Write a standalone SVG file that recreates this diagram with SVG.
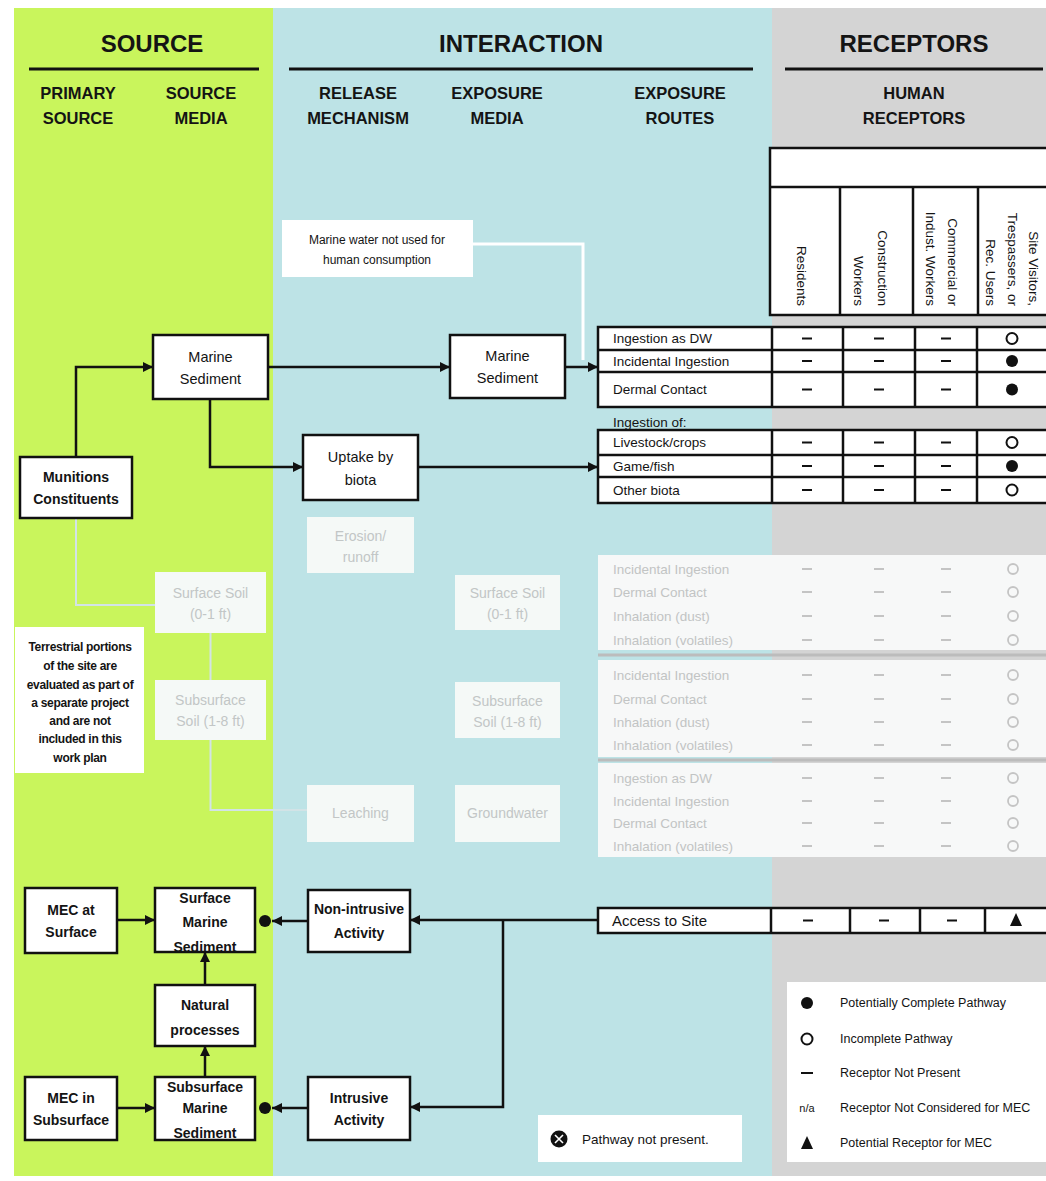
<svg xmlns="http://www.w3.org/2000/svg" width="1046" height="1181" viewBox="0 0 1046 1181">
  <defs>
    <marker id="arr" viewBox="0 0 10 10" refX="10" refY="5" markerWidth="11" markerHeight="10" markerUnits="userSpaceOnUse" orient="auto">
      <path d="M0,0 L10,5 L0,10 z" fill="#111"/>
    </marker>
    <style>
      text { font-family: "Liberation Sans", Arial, sans-serif; fill: #141414; }
      .h1 { font-size: 24px; font-weight: bold; text-anchor: middle; }
      .h2 { font-size: 16.5px; font-weight: bold; text-anchor: middle; }
      .node rect { fill: #ffffff; stroke: #111; stroke-width: 2.5; }
      .node text { font-size: 14.5px; text-anchor: middle; }
      .node.b text { font-size: 14px; font-weight: bold; }
      .note rect { fill: #ffffff; stroke: none; }
      .note text { text-anchor: middle; }
      .fade rect { fill: #f5f9f7; stroke: none; }
      .fade text { font-size: 14px; text-anchor: middle; fill: #c2c6c6; }
      .conn path { fill: none; stroke: #111; stroke-width: 2.5; }
      .conn .ghost { stroke: #d2e3e6; stroke-width: 2; }
      .conn .white { stroke: #ffffff; stroke-width: 3; }
      .tbl rect { fill: #ffffff; stroke: #111; stroke-width: 2.5; }
      .tbl line { stroke: #111; stroke-width: 2.5; }
      .tbl text { font-size: 13.5px; }
      .vt { font-size: 15px; text-anchor: end; }
      .dash { stroke: #111; stroke-width: 2; }
      .fdash { stroke: #c4c4c4; stroke-width: 2; }
      .full { fill: #111; }
      .open { fill: #fff; stroke: #111; stroke-width: 2; }
      .fopen { fill: none; stroke: #c4c4c4; stroke-width: 1.8; }
      .ftxt { font-size: 13.5px; fill: #c2c4c4; }
      .leg text { font-size: 12.5px; }
    </style>
  </defs>

  <!-- background bands -->
  <rect x="0" y="0" width="1046" height="1181" fill="#ffffff"/>
  <rect x="14" y="8" width="259" height="1168" fill="#c9f55c"/>
  <rect x="273" y="8" width="499" height="1168" fill="#bde3e6"/>
  <rect x="772" y="8" width="274" height="1168" fill="#d4d4d4"/>

  <!-- column headings -->
  <g id="headings">
    <text class="h1" x="152" y="52">SOURCE</text>
    <text class="h1" x="521" y="52">INTERACTION</text>
    <text class="h1" x="914" y="52">RECEPTORS</text>
    <line x1="29" y1="69" x2="259" y2="69" stroke="#111" stroke-width="3"/>
    <line x1="289" y1="69" x2="753" y2="69" stroke="#111" stroke-width="3"/>
    <line x1="785" y1="69" x2="1043" y2="69" stroke="#111" stroke-width="3"/>
    <text class="h2" x="78" y="99">PRIMARY</text>
    <text class="h2" x="78" y="124">SOURCE</text>
    <text class="h2" x="201" y="99">SOURCE</text>
    <text class="h2" x="201" y="124">MEDIA</text>
    <text class="h2" x="358" y="99">RELEASE</text>
    <text class="h2" x="358" y="124">MECHANISM</text>
    <text class="h2" x="497" y="99">EXPOSURE</text>
    <text class="h2" x="497" y="124">MEDIA</text>
    <text class="h2" x="680" y="99">EXPOSURE</text>
    <text class="h2" x="680" y="124">ROUTES</text>
    <text class="h2" x="914" y="99">HUMAN</text>
    <text class="h2" x="914" y="124">RECEPTORS</text>
  </g>

  <!-- receptor header table -->
  <g id="receptor-header" class="tbl">
    <rect x="770" y="148" width="280" height="167"/>
    <line x1="770" y1="187" x2="1050" y2="187"/>
    <line x1="840" y1="187" x2="840" y2="315"/>
    <line x1="913" y1="187" x2="913" y2="315"/>
    <line x1="978" y1="187" x2="978" y2="315"/>
    <text class="vt" transform="translate(797,306) rotate(90)">Residents</text>
    <text class="vt" transform="translate(878,306) rotate(90)">Construction</text>
    <text class="vt" transform="translate(854,306) rotate(90)">Workers</text>
    <text class="vt" transform="translate(948,306) rotate(90)">Commercial or</text>
    <text class="vt" transform="translate(926,306) rotate(90)">Indust. Workers</text>
    <text class="vt" transform="translate(1029,306) rotate(90)">Site Visitors,</text>
    <text class="vt" transform="translate(1008,306) rotate(90)">Trespassers, or</text>
    <text class="vt" transform="translate(986,306) rotate(90)">Rec. Users</text>
  </g>

  <!-- faded terrestrial pathway rows -->
  <g id="terrestrial-rows">
    <rect x="598" y="555" width="448" height="95" fill="#f7f8f8"/>
    <rect x="598" y="660" width="448" height="97" fill="#f7f8f8"/>
    <rect x="598" y="763" width="448" height="94" fill="#f7f8f8"/>
    <line x1="598" y1="655" x2="1046" y2="655" stroke="#bcbcbc" stroke-width="3"/>
    <line x1="598" y1="760" x2="1046" y2="760" stroke="#bcbcbc" stroke-width="3"/>
    <text class="ftxt" x="613" y="574">Incidental Ingestion</text>
    <text class="ftxt" x="613" y="597">Dermal Contact</text>
    <text class="ftxt" x="613" y="621">Inhalation (dust)</text>
    <text class="ftxt" x="613" y="645">Inhalation (volatiles)</text>
    <text class="ftxt" x="613" y="680">Incidental Ingestion</text>
    <text class="ftxt" x="613" y="704">Dermal Contact</text>
    <text class="ftxt" x="613" y="727">Inhalation (dust)</text>
    <text class="ftxt" x="613" y="750">Inhalation (volatiles)</text>
    <text class="ftxt" x="613" y="783">Ingestion as DW</text>
    <text class="ftxt" x="613" y="806">Incidental Ingestion</text>
    <text class="ftxt" x="613" y="828">Dermal Contact</text>
    <text class="ftxt" x="613" y="851">Inhalation (volatiles)</text>
    <g class="fdash">
      <path d="M802,569h10M874,569h10M941,569h10 M802,592h10M874,592h10M941,592h10 M802,616h10M874,616h10M941,616h10 M802,640h10M874,640h10M941,640h10 M802,675h10M874,675h10M941,675h10 M802,699h10M874,699h10M941,699h10 M802,722h10M874,722h10M941,722h10 M802,745h10M874,745h10M941,745h10 M802,778h10M874,778h10M941,778h10 M802,801h10M874,801h10M941,801h10 M802,823h10M874,823h10M941,823h10 M802,846h10M874,846h10M941,846h10"/>
    </g>
    <g class="fopen">
      <circle cx="1013" cy="569" r="5"/><circle cx="1013" cy="592" r="5"/><circle cx="1013" cy="616" r="5"/><circle cx="1013" cy="640" r="5"/>
      <circle cx="1013" cy="675" r="5"/><circle cx="1013" cy="699" r="5"/><circle cx="1013" cy="722" r="5"/><circle cx="1013" cy="745" r="5"/>
      <circle cx="1013" cy="778" r="5"/><circle cx="1013" cy="801" r="5"/><circle cx="1013" cy="823" r="5"/><circle cx="1013" cy="846" r="5"/>
    </g>
  </g>

  <!-- marine sediment exposure routes -->
  <g id="sediment-routes" class="tbl">
    <rect x="598" y="327" width="452" height="80"/>
    <line x1="598" y1="350" x2="1050" y2="350"/>
    <line x1="598" y1="372" x2="1050" y2="372"/>
    <line x1="772" y1="327" x2="772" y2="407"/>
    <line x1="843" y1="327" x2="843" y2="407"/>
    <line x1="915" y1="327" x2="915" y2="407"/>
    <line x1="977" y1="327" x2="977" y2="407"/>
    <text x="613" y="343">Ingestion as DW</text>
    <text x="613" y="366">Incidental Ingestion</text>
    <text x="613" y="394">Dermal Contact</text>
    <path class="dash" d="M802,338.5h10M874,338.5h10M941,338.5h10 M802,361h10M874,361h10M941,361h10 M802,389.5h10M874,389.5h10M941,389.5h10"/>
    <circle class="open" cx="1012" cy="338.5" r="5.5"/>
    <circle class="full" cx="1012" cy="361" r="6"/>
    <circle class="full" cx="1012" cy="389.5" r="6"/>
  </g>

  <g id="biota-routes" class="tbl">
    <text x="613" y="427">Ingestion of:</text>
    <rect x="598" y="430" width="452" height="73"/>
    <line x1="598" y1="455" x2="1050" y2="455"/>
    <line x1="598" y1="477" x2="1050" y2="477"/>
    <line x1="772" y1="430" x2="772" y2="503"/>
    <line x1="843" y1="430" x2="843" y2="503"/>
    <line x1="915" y1="430" x2="915" y2="503"/>
    <line x1="977" y1="430" x2="977" y2="503"/>
    <text x="613" y="447">Livestock/crops</text>
    <text x="613" y="471">Game/fish</text>
    <text x="613" y="495">Other biota</text>
    <path class="dash" d="M802,442.5h10M874,442.5h10M941,442.5h10 M802,466h10M874,466h10M941,466h10 M802,490h10M874,490h10M941,490h10"/>
    <circle class="open" cx="1012" cy="442.5" r="5.5"/>
    <circle class="full" cx="1012" cy="466" r="6"/>
    <circle class="open" cx="1012" cy="490" r="5.5"/>
  </g>

  <g id="site-access" class="tbl">
    <rect x="598" y="908" width="452" height="25"/>
    <line x1="771" y1="908" x2="771" y2="933"/>
    <line x1="850" y1="908" x2="850" y2="933"/>
    <line x1="920" y1="908" x2="920" y2="933"/>
    <line x1="985" y1="908" x2="985" y2="933"/>
    <text x="612" y="926" style="font-size:15px">Access to Site</text>
    <path class="dash" d="M803,920.5h10M879,920.5h10M947,920.5h10"/>
    <path class="full" d="M1016,913 L1022,926 L1010,926 z"/>
  </g>

  <!-- connectors -->
  <g id="connectors" class="conn">
    <path class="ghost" d="M76,518 V605 H155"/>
    <path class="ghost" d="M210.5,633 V680"/>
    <path class="ghost" d="M210.5,740 V810 H307"/>
    <path class="white" d="M473,244 H583 V360"/>
    <path d="M76,457 V367 H153" marker-end="url(#arr)"/>
    <path d="M268,367 H450" marker-end="url(#arr)"/>
    <path d="M565,367 H598" marker-end="url(#arr)"/>
    <path d="M210,399 V467 H303" marker-end="url(#arr)"/>
    <path d="M418,467 H598" marker-end="url(#arr)"/>
    <path d="M117,920 H155" marker-end="url(#arr)"/>
    <path d="M117,1108 H155" marker-end="url(#arr)"/>
    <path d="M205,1077 V1046" marker-end="url(#arr)"/>
    <path d="M205,985 V952" marker-end="url(#arr)"/>
    <path d="M308,921 H272" marker-end="url(#arr)"/>
    <path d="M308,1108 H272" marker-end="url(#arr)"/>
    <circle cx="265" cy="921" r="6" fill="#111"/>
    <circle cx="265" cy="1108" r="6" fill="#111"/>
    <path d="M598,920 H410" marker-end="url(#arr)"/>
    <path d="M503,920 V1107 H410" marker-end="url(#arr)"/>
  </g>

  <!-- nodes -->
  <g id="munitions-constituents" class="node b">
    <rect x="20" y="457" width="112" height="61"/>
    <text x="76" y="482">Munitions</text>
    <text x="76" y="504">Constituents</text>
  </g>
  <g id="marine-sediment-source" class="node">
    <rect x="153" y="335" width="115" height="64"/>
    <text x="210.5" y="362">Marine</text>
    <text x="210.5" y="384">Sediment</text>
  </g>
  <g id="marine-sediment-exposure" class="node">
    <rect x="450" y="335" width="115" height="63"/>
    <text x="507.5" y="361">Marine</text>
    <text x="507.5" y="383">Sediment</text>
  </g>
  <g id="uptake-by-biota" class="node">
    <rect x="303" y="435" width="115" height="65"/>
    <text x="360.5" y="462">Uptake by</text>
    <text x="360.5" y="485">biota</text>
  </g>
  <g id="marine-water-note" class="note">
    <rect x="282" y="220" width="191" height="57"/>
    <text x="377" y="244" style="font-size:12px">Marine water not used for</text>
    <text x="377" y="264" style="font-size:12px">human consumption</text>
  </g>
  <g id="terrestrial-note" class="note">
    <rect x="15" y="627" width="129" height="146"/>
    <g style="font-size:12px;font-weight:bold;letter-spacing:-0.3px">
      <text x="80" y="651">Terrestrial portions</text>
      <text x="80" y="670">of the site are</text>
      <text x="80" y="689">evaluated as part of</text>
      <text x="80" y="707">a separate project</text>
      <text x="80" y="725">and are not</text>
      <text x="80" y="743">included in this</text>
      <text x="80" y="762">work plan</text>
    </g>
  </g>
  <g id="surface-soil-source" class="fade">
    <rect x="155" y="572" width="111" height="61"/>
    <text x="210.5" y="598">Surface Soil</text>
    <text x="210.5" y="619">(0-1 ft)</text>
  </g>
  <g id="subsurface-soil-source" class="fade">
    <rect x="155" y="680" width="111" height="60"/>
    <text x="210.5" y="705">Subsurface</text>
    <text x="210.5" y="726">Soil (1-8 ft)</text>
  </g>
  <g id="erosion-runoff" class="fade">
    <rect x="307" y="517" width="107" height="56"/>
    <text x="360.5" y="541">Erosion/</text>
    <text x="360.5" y="562">runoff</text>
  </g>
  <g id="surface-soil-exposure" class="fade">
    <rect x="455" y="575" width="105" height="55"/>
    <text x="507.5" y="598">Surface Soil</text>
    <text x="507.5" y="619">(0-1 ft)</text>
  </g>
  <g id="subsurface-soil-exposure" class="fade">
    <rect x="455" y="682" width="105" height="56"/>
    <text x="507.5" y="706">Subsurface</text>
    <text x="507.5" y="727">Soil (1-8 ft)</text>
  </g>
  <g id="leaching" class="fade">
    <rect x="307" y="785" width="107" height="57"/>
    <text x="360.5" y="818">Leaching</text>
  </g>
  <g id="groundwater" class="fade">
    <rect x="455" y="785" width="105" height="57"/>
    <text x="507.5" y="818">Groundwater</text>
  </g>

  <g id="mec-at-surface" class="node b">
    <rect x="25" y="888" width="92" height="65"/>
    <text x="71" y="915">MEC at</text>
    <text x="71" y="937">Surface</text>
  </g>
  <g id="surface-marine-sediment" class="node b">
    <rect x="155" y="888" width="100" height="64"/>
    <text x="205" y="903">Surface</text>
    <text x="205" y="927">Marine</text>
    <text x="205" y="952">Sediment</text>
  </g>
  <g id="natural-processes" class="node b">
    <rect x="155" y="985" width="100" height="61"/>
    <text x="205" y="1010">Natural</text>
    <text x="205" y="1035">processes</text>
  </g>
  <g id="subsurface-marine-sediment" class="node b">
    <rect x="155" y="1077" width="100" height="63"/>
    <text x="205" y="1092">Subsurface</text>
    <text x="205" y="1113">Marine</text>
    <text x="205" y="1138">Sediment</text>
  </g>
  <g id="mec-in-subsurface" class="node b">
    <rect x="25" y="1077" width="92" height="63"/>
    <text x="71" y="1103">MEC in</text>
    <text x="71" y="1125">Subsurface</text>
  </g>
  <g id="non-intrusive-activity" class="node b">
    <rect x="308" y="890" width="102" height="62"/>
    <text x="359" y="914">Non-intrusive</text>
    <text x="359" y="938">Activity</text>
  </g>
  <g id="intrusive-activity" class="node b">
    <rect x="308" y="1077" width="102" height="63"/>
    <text x="359" y="1103">Intrusive</text>
    <text x="359" y="1125">Activity</text>
  </g>

  <!-- pathway-not-present key -->
  <g id="pathway-key" class="leg">
    <rect x="538" y="1115" width="204" height="47" fill="#ffffff"/>
    <circle cx="559" cy="1139" r="8.5" fill="#111"/>
    <path d="M555,1135 L563,1143 M563,1135 L555,1143" stroke="#fff" stroke-width="1.6"/>
    <text x="582" y="1144" style="font-size:13.5px">Pathway not present.</text>
  </g>

  <!-- legend -->
  <g id="legend" class="leg">
    <rect x="787" y="982" width="259" height="180" fill="#ffffff"/>
    <circle cx="807" cy="1003" r="6" fill="#111"/>
    <text x="840" y="1007">Potentially Complete Pathway</text>
    <circle cx="807" cy="1039" r="5.5" fill="#fff" stroke="#111" stroke-width="2"/>
    <text x="840" y="1043">Incomplete Pathway</text>
    <line x1="801" y1="1073" x2="813" y2="1073" stroke="#111" stroke-width="2"/>
    <text x="840" y="1077">Receptor Not Present</text>
    <text x="807" y="1112" style="font-size:11px;text-anchor:middle">n/a</text>
    <text x="840" y="1112">Receptor Not Considered for MEC</text>
    <path d="M807,1136 L813,1149 L801,1149 z" fill="#111"/>
    <text x="840" y="1147">Potential Receptor for MEC</text>
  </g>
</svg>
